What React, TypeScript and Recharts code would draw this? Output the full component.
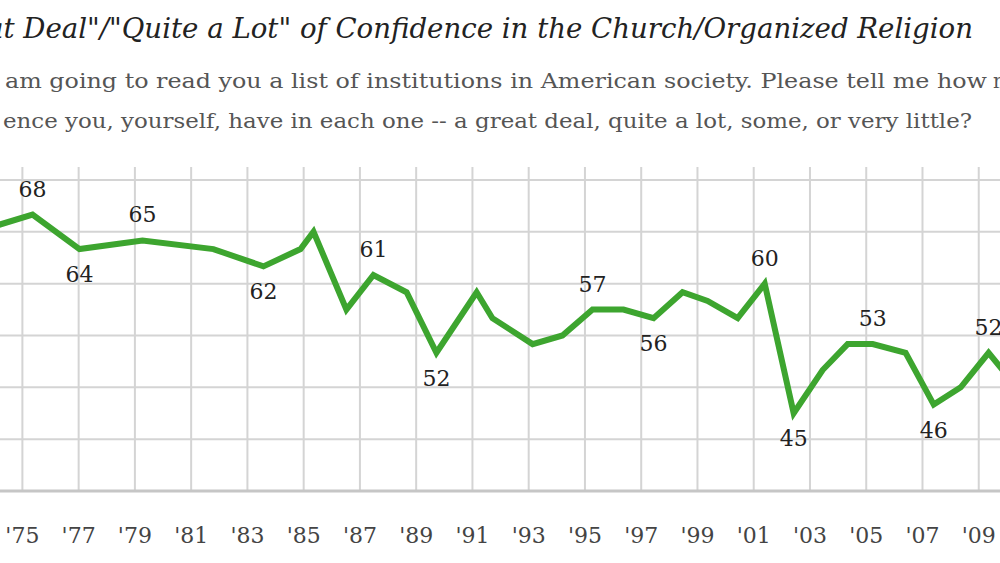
import React from "react";
import { LineChart, Line, XAxis, YAxis, CartesianGrid } from "recharts";

// Survey years (identity of each poll) and their plotted survey dates (decimal years)
const surveyYears = [1973, 1975, 1977, 1979, 1981, 1983, 1984, 1985, 1986, 1987, 1988, 1989, 1991, 1991.5, 1993, 1994, 1995, 1996, 1997, 1998, 1999, 2000, 2001, 2002, 2003, 2004, 2005, 2006, 2007, 2008, 2009, 2010];
const surveyDates = [1973.36, 1975.36, 1977.03, 1979.27, 1981.79, 1983.57, 1984.89, 1985.35, 1986.52, 1987.48, 1988.66, 1989.72, 1991.15, 1991.71, 1993.14, 1994.2, 1995.27, 1996.37, 1997.44, 1998.47, 1999.36, 2000.43, 2001.39, 2002.42, 2003.45, 2004.34, 2005.23, 2006.4, 2007.4, 2008.36, 2009.35, 2010.35];
const confidenceValues = [66, 68, 64, 65, 64, 62, 64, 66, 57, 61, 59, 52, 59, 56, 53, 54, 57, 57, 56, 59, 58, 56, 60, 45, 50, 53, 53, 52, 46, 48, 52, 48];

// Which polls carry a value label
const labeledAbove = [1975, 1979, 1987, 1995, 2001, 2005, 2009];
const labeledBelow = [1977, 1983, 1989, 1997, 2002, 2007];

// Axis ticks
const xTickYears = [1975, 1977, 1979, 1981, 1983, 1985, 1987, 1989, 1991, 1993, 1995, 1997, 1999, 2001, 2003, 2005, 2007, 2009];
const yTicks = [36, 42, 48, 54, 60, 66, 72];
const yGridValues = [42, 48, 54, 60, 66, 72];

const titleHidden = '"Gre';
const titleVisible = 'at Deal"/"Quite a Lot" of Confidence in the Church/Organized Religion';
const q1Hidden = "I";
const q1Visible = "am going to read you a list of institutions in American society. Please tell me how";
const q1Rest = "much";
const q2Hidden = "confid";
const q2Visible = "ence you, yourself, have in each one -- a great deal, quite a lot, some, or very little?";

const data = surveyDates.map((d, i) => ({
  date: d,
  year: surveyYears[i],
  value: confidenceValues[i],
}));

const fmtYear = (y: number) => "'" + String(y).slice(2);

const SERIF = "'DejaVu Serif', 'Liberation Serif', serif";

const XTick = (props: any) => {
  const { x, y, payload } = props;
  return (
    <text
      x={x}
      y={y + 52}
      textAnchor="middle"
      fontFamily={SERIF}
      fontSize={22}
      fill="#444"
    >
      {fmtYear(payload.value)}
    </text>
  );
};

const renderLabel = (props: any) => {
  const { x, y, index, value } = props;
  const yr = surveyYears[index];
  let dy = 0;
  if (labeledAbove.includes(yr)) dy = -18;
  else if (labeledBelow.includes(yr)) dy = 33;
  else return null;
  return (
    <text
      key={"lbl" + index}
      x={x}
      y={y + dy}
      textAnchor="middle"
      fontFamily={SERIF}
      fontSize={22}
      fill="#222"
    >
      {value}
    </text>
  );
};

export default function App() {
  return (
    <div
      style={{
        position: "absolute",
        left: 0,
        top: 0,
        width: 1000,
        height: 563,
        overflow: "hidden",
        background: "#fff",
      }}
    >
      <div style={{ position: "absolute", left: -62, top: 0 }}>
        <LineChart
          width={1097}
          height={563}
          data={data}
          margin={{ top: 167, right: 0, bottom: 0, left: 0 }}
        >
          <CartesianGrid stroke="#d4d4d4" strokeWidth={2} horizontalValues={yGridValues} />
          <XAxis
            type="number"
            dataKey="date"
            domain={[1972, 2011]}
            ticks={xTickYears}
            interval={0}
            allowDataOverflow
            height={72}
            tickLine={false}
            tickSize={0}
            tickMargin={0}
            axisLine={{ stroke: "#c6c6c6", strokeWidth: 3 }}
            tick={<XTick />}
          />
          <YAxis hide domain={[36, 73.5]} ticks={yTicks} allowDataOverflow />
          <Line
            type="linear"
            dataKey="value"
            stroke="#3da52f"
            strokeWidth={6}
            dot={false}
            activeDot={false}
            isAnimationActive={false}
            label={renderLabel}
          />
        </LineChart>
      </div>
      <svg
        width={1000}
        height={150}
        style={{ position: "absolute", left: 0, top: 0 }}
      >
        <text x={-14} y={38} textAnchor="end" fontFamily={SERIF} fontStyle="italic" fontSize={27} fill="#222">
          {titleHidden}
        </text>
        <text
          x={-13}
          y={38}
          fontFamily={SERIF}
          fontStyle="italic"
          fontSize={27}
          fill="#222"
          textLength={986}
          lengthAdjust="spacingAndGlyphs"
        >
          {titleVisible}
        </text>
        <text x={-4} y={88} textAnchor="end" fontFamily={SERIF} fontSize={19.5} fill="#555">
          {q1Hidden}
        </text>
        <text
          x={5}
          y={88}
          fontFamily={SERIF}
          fontSize={19.5}
          fill="#555"
          textLength={982}
          lengthAdjust="spacingAndGlyphs"
        >
          {q1Visible}
        </text>
        <text x={993} y={88} fontFamily={SERIF} fontSize={19.5} fill="#555">
          {q1Rest}
        </text>
        <text x={-4} y={128} textAnchor="end" fontFamily={SERIF} fontSize={19.5} fill="#555">
          {q2Hidden}
        </text>
        <text
          x={3}
          y={128}
          fontFamily={SERIF}
          fontSize={19.5}
          fill="#555"
          textLength={969}
          lengthAdjust="spacingAndGlyphs"
        >
          {q2Visible}
        </text>
      </svg>
    </div>
  );
}
